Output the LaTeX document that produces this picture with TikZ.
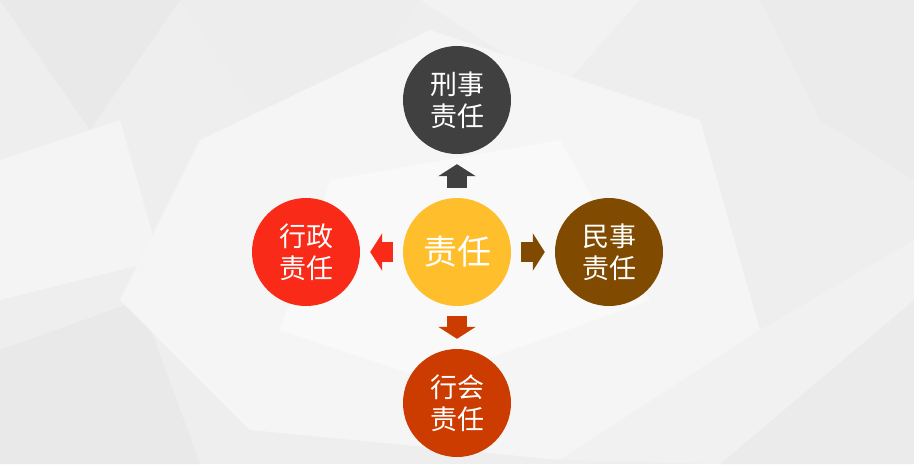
\documentclass[tikz,border=0pt]{standalone}
\usepackage{fontspec}
\setmainfont{Noto Sans CJK SC}
\usetikzlibrary{arrows.meta,positioning}

\begin{document}
\begin{tikzpicture}[x=1pt,y=-1pt,
	duty/.style={circle,minimum size=108pt,inner sep=0pt,text=white,align=center,font=\fontsize{27}{32}\selectfont},
	blockarrow/.style={line width=20pt,-{Triangle[length=12pt,width=37pt]},shorten <=10pt,shorten >=10pt}]
				\definecolor{color1}{HTML}{FFBE2C} %% centre
				\definecolor{color2}{HTML}{404040}
				\definecolor{color3}{HTML}{FA2A19}
				\definecolor{color4}{HTML}{804A00}
				\definecolor{color5}{HTML}{CC3B00}
				\useasboundingbox (0,0) rectangle (914,464);
				%% Background ------
				\fill[gray!13] (0,0) rectangle (914,464);
				\fill[gray!17] (0,0) -- (180,0) -- (90,130) -- cycle;
				\fill[gray!14] (180,0) -- (420,0) -- (300,170) -- cycle;
				\fill[gray!10] (420,0) -- (640,0) -- (560,90) -- cycle;
				\fill[gray!16] (760,0) -- (914,0) -- (914,180) -- (820,120) -- cycle;
				\fill[gray!17] (0,350) -- (140,300) -- (200,464) -- (0,464) -- cycle;
				\fill[gray!16] (914,300) -- (914,464) -- (720,464) -- cycle;
				\fill[gray!9] (0,160) -- (120,120) -- (160,260) -- (0,300) -- cycle;
				\fill[gray!8] (200,140) -- (430,30) -- (700,120) -- (760,330) -- (560,460) -- (250,430) -- (120,300) -- cycle;
				\fill[gray!5] (330,180) -- (560,140) -- (650,300) -- (430,380) -- (280,330) -- cycle;
				\fill[gray!11] (760,330) -- (914,240) -- (914,300) -- (720,464) -- (560,460) -- cycle;
				%% Nodes ------
				\node[duty, fill=color1, font=\fontsize{34}{40}\selectfont] (duty) at (457,252) {责任};
				\node[duty, fill=color2] (criminal) at (457,100) {刑事\\责任};
				\node[duty, fill=color3] (admin) at (306,252) {行政\\责任};
				\node[duty, fill=color4] (civil) at (609,252) {民事\\责任};
				\node[duty, fill=color5] (trade) at (457,403) {行会\\责任};
				%% Arrows ---------
				\draw[blockarrow, color2] (duty) -- (criminal);
				\draw[blockarrow, color3] (duty) -- (admin);
				\draw[blockarrow, color4] (duty) -- (civil);
				\draw[blockarrow, color5] (duty) -- (trade);
			\end{tikzpicture}
\end{document}
